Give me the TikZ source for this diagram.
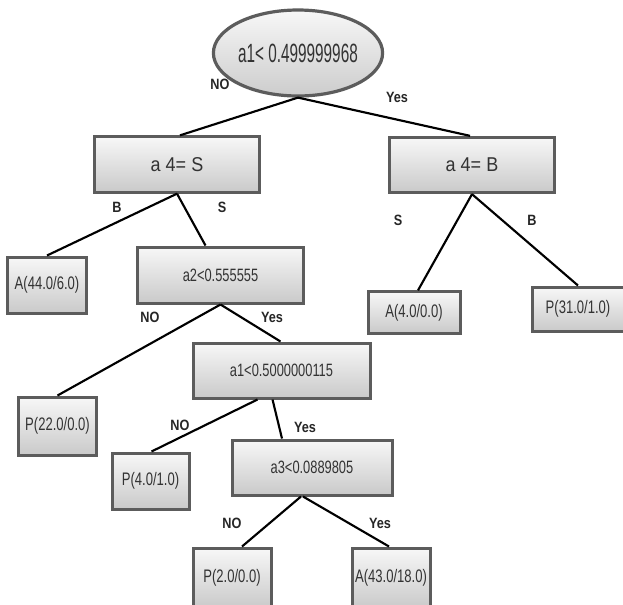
\documentclass[tikz,border=0pt]{standalone}
\usepackage{fontspec}
\setmainfont{Liberation Sans}
\newfontfamily\rootfont[FakeStretch=0.58]{Liberation Sans}
\newfontfamily\fourfont[FakeStretch=0.9]{Liberation Sans}
\newfontfamily\boxfont[FakeStretch=0.72]{Liberation Sans}
\newfontfamily\lblfont[FakeStretch=0.85]{Liberation Sans}
\usetikzlibrary{shapes.geometric,calc}
\definecolor{bordergray}{HTML}{5C5C5C}
\definecolor{txtgray}{HTML}{333333}
\tikzset{
  gbox/.style={draw=bordergray, line width=2.25pt, rectangle, inner sep=0pt,
    top color=gray!6, bottom color=gray!42, text=txtgray},
  rootnode/.style={draw=bordergray, line width=2.4pt, ellipse, inner sep=0pt,
    top color=gray!6, bottom color=gray!40, text=txtgray,
    minimum width=100pt, minimum height=64.5pt, font=\rootfont\fontsize{19.8}{21}\selectfont},
  fourbox/.style={gbox, minimum width=123.75pt, minimum height=41.5pt,
    font=\fourfont\fontsize{15}{17}\selectfont},
  midbox/.style={gbox, font=\boxfont\fontsize{13.4}{15}\selectfont},
  leafbox/.style={gbox, font=\boxfont\fontsize{13.6}{15}\selectfont},
  edgelbl/.style={font=\lblfont\bfseries\fontsize{11.2}{12}\selectfont, text=black!85, inner sep=0pt},
  conn/.style={line width=1.6pt, black}
}
\begin{document}
\begin{tikzpicture}[x=0.75pt,y=-0.75pt]
\fill[white] (0,0) rectangle (623,604);
\clip (0,0) rectangle (623,604);
% nodes
\node[rootnode] (root) at (298,53) {a1< 0.499999968};
\node[fourbox] (s4S) at (177,164.5) {a 4= S};
\node[fourbox] (s4B) at (472,165) {a 4= B};
\node[leafbox, minimum width=59pt, minimum height=42pt] (A44) at (47,285) {A(44.0/6.0)};
\node[midbox, minimum width=125pt, minimum height=42pt] (a2) at (220.5,275) {a2<0.555555};
\node[leafbox, minimum width=69pt, minimum height=31pt] (A4) at (414,312.5) {A(4.0/0.0)};
\node[leafbox, minimum width=69pt, minimum height=33pt] (P31) at (578,309) {P(31.0/1.0)};
\node[leafbox, minimum width=59pt, minimum height=43.5pt] (P22) at (57.5,426) {P(22.0/0.0)};
\node[midbox, minimum width=132.75pt, minimum height=41.25pt] (a1b) at (281.5,370.5) {a1<0.5000000115};
\node[leafbox, minimum width=57.75pt, minimum height=42pt] (P4) at (150.5,481) {P(4.0/1.0)};
\node[midbox, minimum width=120pt, minimum height=41.25pt] (a3) at (312,467.5) {a3<0.0889805};
\node[leafbox, minimum width=58.5pt, minimum height=45pt] (P2) at (232,578) {P(2.0/0.0)};
\node[leafbox, minimum width=58.5pt, minimum height=45pt] (A43) at (391,578) {A(43.0/18.0)};
% connectors
\draw[conn] (root.south) -- ($(s4S.north)+(3,0)$);
\draw[conn] (root.south) -- ($(s4B.north)+(-2,0)$);
\draw[conn] (s4S.south) -- (A44.north);
\draw[conn] (s4S.south) -- ($(a2.north)+(-15,0)$);
\draw[conn] (s4B.south) -- ($(A4.north)+(4,0)$);
\draw[conn] (s4B.south) -- (P31.north);
\draw[conn] (a2.south) -- (P22.north);
\draw[conn] (a2.south) -- ($(a1b.north)+(-1,0)$);
\draw[conn] ($(a1b.south)+(-24,0)$) -- ($(P4.north)+(1,0)$);
\draw[conn] ($(a1b.south)+(-9,0)$) -- ($(a3.north)+(-30,0)$);
\draw[conn] ($(a3.south)+(-11,0)$) -- ($(P2.north)+(10,0)$);
\draw[conn] ($(a3.south)+(-9,0)$) -- ($(A43.north)+(-2,0)$);
% edge labels
\node[edgelbl] (l1) at (220,84) {NO};
\node[edgelbl] (l2) at (397,97) {Yes};
\node[edgelbl] (l3) at (117,207) {B};
\node[edgelbl] (l4) at (222,207) {S};
\node[edgelbl] (l5) at (398,220) {S};
\node[edgelbl] (l6) at (532,220) {B};
\node[edgelbl] (l7) at (150,317) {NO};
\node[edgelbl] (l8) at (272,317) {Yes};
\node[edgelbl] (l9) at (180,425) {NO};
\node[edgelbl] (l10) at (305,427) {Yes};
\node[edgelbl] (l11) at (232,523) {NO};
\node[edgelbl] (l12) at (380,523) {Yes};
\end{tikzpicture}
\end{document}
